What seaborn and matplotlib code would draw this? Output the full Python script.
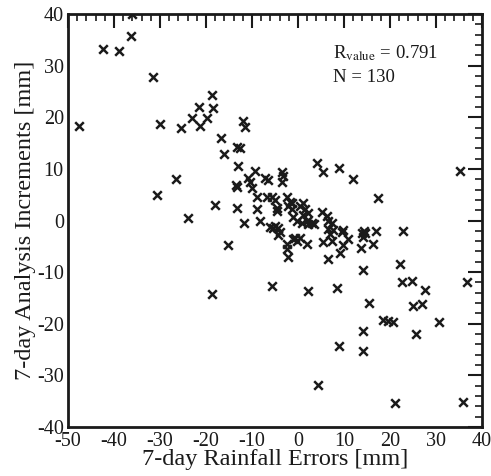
import numpy as np
import pandas as pd
import matplotlib
matplotlib.use("Agg")
import matplotlib.pyplot as plt
import seaborn as sns
from matplotlib.ticker import MultipleLocator

rain_err = [
    -47.6, -42.4, -39.0, -36.3, -36.0, -31.5, -30.0, -30.7, -25.4, -26.5,
    -24.0, -23.0, -21.3, -21.5, -19.8, -18.7, -18.5, -18.0, -16.7, -16.1,
    -15.2, -18.7, -13.0, -13.5, -13.3, -13.3, -12.6, -13.3,
    -12.0, -11.6, -11.7, -10.9, -10.4, -9.3, -10.0, -8.9, -8.9, -8.3,
    -7.2, -6.5, -6.7, -5.7, -5.0, -4.6, -4.6, -6.1, -5.4, -5.0, -4.3, -3.9,
    -4.3, -3.5, -3.3, -3.5, -2.4, -1.7, -2.2, -1.3, -2.4, -2.3, -2.2,
    -0.7, -5.7, -1.1, -0.2, 0.4, -1.3,
    0.4, 1.5, 2.2, 1.1, -1.1, -0.2, 0.9, 2.2, 3.0, 3.5, 1.1, 2.0, 2.0,
    5.2, 6.3, 6.5, 7.4, 6.5, 7.6, 7.0, 5.4, 7.4, 9.6, 9.8, 10.9, 9.8, 9.1,
    6.5, 4.1, 5.4, 8.9, 12.0, 2.2, 8.5, 4.3, 8.9,
    13.9, 14.6, 14.1, 14.4, 17.0, 16.3, 13.7, 14.1, 17.4, 22.8, 22.2, 22.6,
    24.8, 27.6, 15.4, 25.0, 27.0, 18.5, 19.6, 20.7, 30.7, 14.1, 25.7, 14.1,
    21.1, 35.9, 36.7, 35.2,
]
increments = [
    18.4, 33.2, 32.8, 35.7, 40.0, 27.8, 18.6, 5.0, 17.9, 8.1,
    0.4, 19.8, 18.4, 21.9, 19.8, 24.3, 21.7, 3.1, 15.9, 12.8,
    -4.7, -14.2, 10.6, 6.8, 6.5, 2.5, 14.1, 14.2,
    19.2, 18.2, -0.4, 8.2, 7.4, 9.6, 6.2, 4.5, 2.2, 0.0,
    8.3, 7.8, 4.6, 4.6, 3.9, 2.5, 1.9, -1.2, -1.4, -1.0, -1.5, -2.3,
    -2.9, 9.3, 8.7, 7.4, 4.6, 3.5, 2.9, 2.3, -4.5, -5.5, -7.1,
    -3.3, -12.6, -3.5, -3.9, -3.3, 3.3,
    2.9, 2.3, 1.4, 3.3, 0.6, 0.0, -0.4, -0.6, -0.4, -0.6, 1.0, 0.0, -4.5,
    1.6, 0.8, 0.0, -0.4, -1.6, -1.9, -2.7, -4.1, -3.9, -2.3, -1.9, -3.5, -4.7, -6.2,
    -7.4, 11.1, 9.3, 10.1, 8.0, -13.7, -13.0, -31.8, -24.3,
    -2.5, -2.5, -3.1, -2.0, -2.1, -4.5, -5.4, -9.5, 4.3, -2.0, -8.5, -12.0,
    -11.8, -13.4, -15.9, -16.5, -16.1, -19.2, -19.4, -19.6, -19.6, -21.4, -21.9, -25.2,
    -35.3, -35.1, -12.0, 9.5,
]
x_ticks = [-50, -40, -30, -20, -10, 0, 10, 20, 30, 40]
y_ticks = [-40, -30, -20, -10, 0, 10, 20, 30, 40]

df = pd.DataFrame({"err": rain_err[:len(increments)], "inc": increments[:len(rain_err)]})

sns.set_theme(style="white")
plt.rcParams["font.family"] = ["Liberation Serif", "DejaVu Serif"]
plt.rcParams["mathtext.fontset"] = "stix"
plt.rcParams["axes.unicode_minus"] = False

fig = plt.figure(figsize=(4.91, 4.76), dpi=100)
ax = fig.add_axes([0.1385, 0.1029, 0.8432, 0.8677])

sns.scatterplot(data=df, x="err", y="inc", marker="x", s=38, color="#1a1a1a",
                linewidth=1.8, ax=ax, legend=False)

ax.set_xlim(-50, 40)
ax.set_ylim(-40, 40)
ax.set_xticks(x_ticks)
ax.set_yticks(y_ticks)
ax.xaxis.set_minor_locator(MultipleLocator(2))
ax.yaxis.set_minor_locator(MultipleLocator(2))
ax.tick_params(which="major", direction="in", length=10, width=1.5, top=True, right=True,
               labelsize=14.5, color="#1a1a1a", labelcolor="#1a1a1a")
ax.tick_params(axis="x", which="major", pad=3.5)
ax.tick_params(axis="y", which="major", pad=3)
ax.tick_params(which="minor", direction="in", length=5, width=1.2, top=True, right=True,
               color="#1a1a1a")
for sp in ax.spines.values():
    sp.set_linewidth(2)
    sp.set_color("#1a1a1a")

ax.set_xlabel("7-day Rainfall Errors [mm]", fontsize=17.5, color="#1a1a1a", labelpad=-1)
ax.set_ylabel("7-day Analysis Increments [mm]", fontsize=17.5, color="#1a1a1a", labelpad=1)

ax.text(7.6, 31.5, r"R$_{\mathrm{value}}$ = 0.791", fontsize=13.5, color="#1a1a1a",
        va="baseline", ha="left")
ax.text(7.6, 26.8, "N = 130", fontsize=13.5, color="#1a1a1a", va="baseline", ha="left")

fig.savefig("out.png", dpi=100)
